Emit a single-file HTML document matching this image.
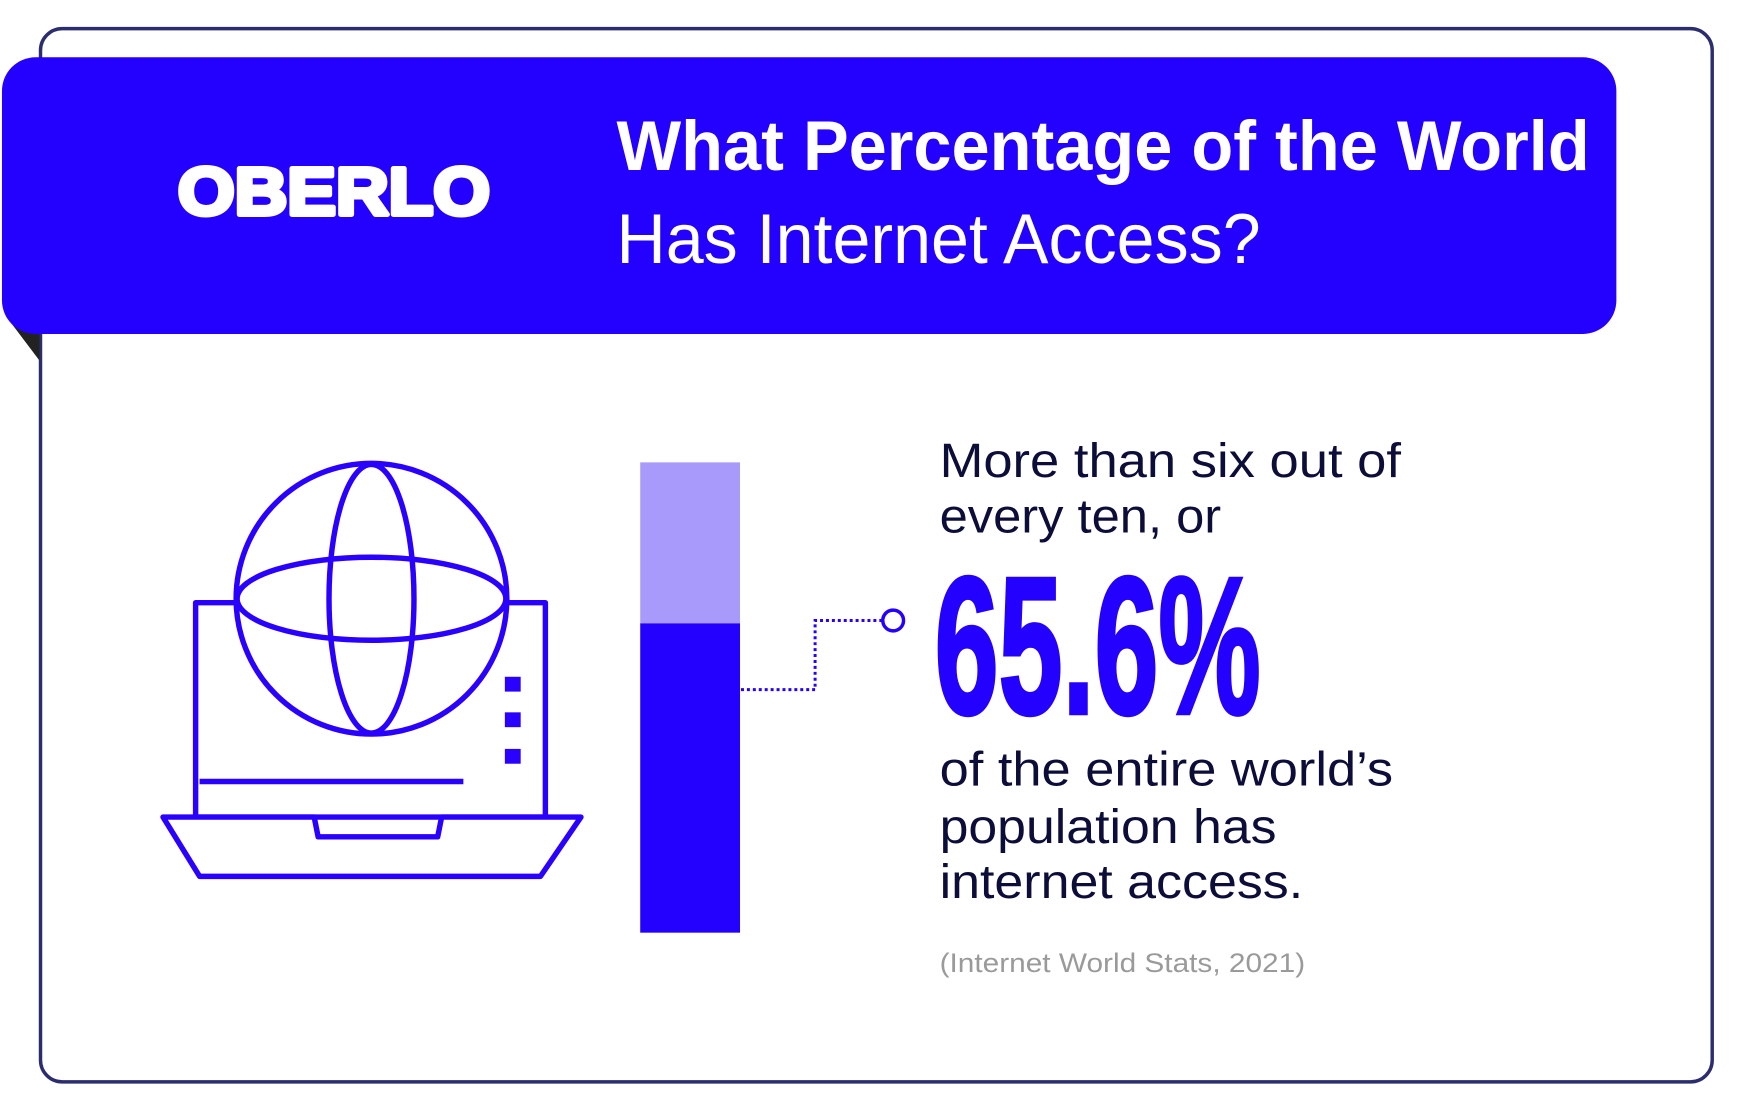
<!DOCTYPE html>
<html><head><meta charset="utf-8"><style>html,body{margin:0;padding:0;background:#fff;}svg{display:block}</style></head>
<body>
<svg width="1740" height="1105" viewBox="0 0 1740 1105" xmlns="http://www.w3.org/2000/svg">
<rect x="0" y="0" width="1740" height="1105" fill="#fff"/>
<g transform="scale(0.988)">
<rect x="41" y="29" width="1692" height="1066" rx="22" fill="#fff" stroke="#2b2d6e" stroke-width="3.5"/>
<polygon points="6,320 40,330 40,365" fill="#222"/>
<rect x="2" y="58" width="1634" height="280" rx="34" fill="#2400ff"/>
<text x="180" y="217" font-family="Liberation Sans, sans-serif" font-weight="900" font-size="68" fill="#fff" stroke="#fff" stroke-width="5" stroke-linejoin="round" textLength="316" lengthAdjust="spacingAndGlyphs">OBERLO</text>
<text x="624" y="172" font-family="Liberation Sans, sans-serif" font-weight="bold" font-size="71" fill="#fff" textLength="985" lengthAdjust="spacingAndGlyphs">What Percentage of the World</text>
<text x="624" y="266" font-family="Liberation Sans, sans-serif" font-size="71" fill="#fff" textLength="652" lengthAdjust="spacingAndGlyphs">Has Internet Access?</text>
<g fill="none" stroke="#2a00ff" stroke-width="5.5" stroke-linejoin="round">
<rect x="198" y="610" width="354" height="217"/>
<path d="M165 827 L318 827 L322 847 L443 847 L447 827 L588 827 L547 887 L202 887 Z" fill="#fff"/>
<line x1="202" y1="791" x2="469" y2="791"/>
<circle cx="376" cy="606" r="137" fill="#fff"/>
<ellipse cx="376" cy="606" rx="136" ry="42"/>
<ellipse cx="376" cy="606" rx="43" ry="136"/>
</g>
<g fill="#2a00ff"><rect x="511" y="685" width="16" height="15"/><rect x="511" y="721" width="16" height="15"/><rect x="511" y="758" width="16" height="15"/></g>
<rect x="648" y="468" width="101" height="164" fill="#a89afa"/>
<rect x="648" y="631" width="101" height="313" fill="#2400ff"/>
<path d="M750 698 H825 V628 H893" fill="none" stroke="#2400ff" stroke-width="3" stroke-dasharray="3 3"/>
<circle cx="904" cy="628" r="10.5" fill="#fff" stroke="#2400ff" stroke-width="3.5"/>
<g font-family="Liberation Sans, sans-serif" font-size="49" fill="#0d0d3a">
<text x="951" y="483" textLength="467" lengthAdjust="spacingAndGlyphs">More than six out of</text>
<text x="951" y="539" textLength="285" lengthAdjust="spacingAndGlyphs">every ten, or</text>
<text x="951" y="795" textLength="459" lengthAdjust="spacingAndGlyphs">of the entire world’s</text>
<text x="951" y="853" textLength="341" lengthAdjust="spacingAndGlyphs">population has</text>
<text x="951" y="909" textLength="368" lengthAdjust="spacingAndGlyphs">internet access.</text>
</g>
<text x="946" y="722" font-family="Liberation Sans, sans-serif" font-weight="bold" font-size="198" fill="#2400ff" stroke="#2400ff" stroke-width="4" textLength="330" lengthAdjust="spacingAndGlyphs">65.6%</text>
<text x="951" y="984" font-family="Liberation Sans, sans-serif" font-size="27" fill="#9a9a9a" textLength="370" lengthAdjust="spacingAndGlyphs">(Internet World Stats, 2021)</text>
</g>
</svg>
</body></html>
